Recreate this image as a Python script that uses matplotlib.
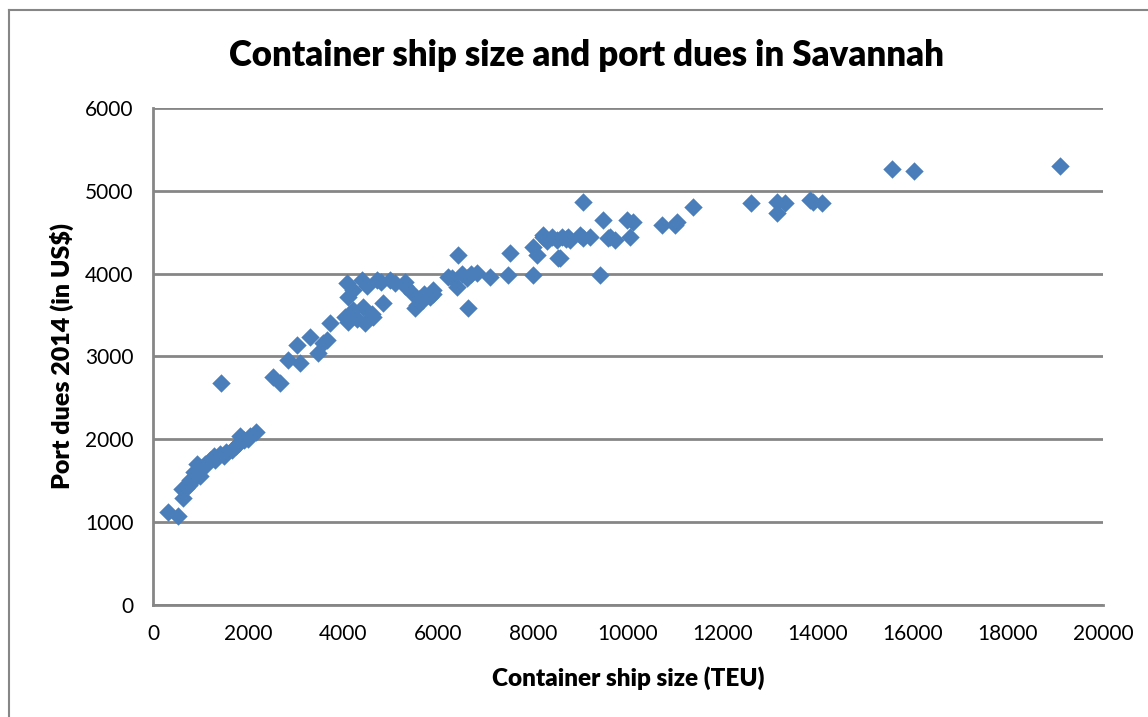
import matplotlib.pyplot as plt
from matplotlib.lines import Line2D

# ship size (TEU) and port dues 2014 (US$)
ship_teu = [316, 526, 630, 695, 779, 863, 926, 989, 1095, 1200, 1284, 1410,
            1537, 1663, 1747, 1832, 1916, 2042, 2168, 1432,
            600, 750, 850, 1000, 1100, 1300, 1500, 1800, 2000,
            2526, 2674, 2842, 3032, 3095, 3305, 3474, 3579, 3726, 3663,
            4042, 4084, 4105, 4210, 4400, 4421, 4463, 4631, 4716, 4842,
            4100, 4300, 4500, 4200, 4600, 4800,
            4989, 5095, 5305, 5453, 5558, 5684, 5895, 5832, 5516,
            5300, 5600, 5700, 5900,
            6421, 6210, 6400, 6632, 6821, 7095, 7516, 7474, 8000, 8000,
            6300, 6500, 6600, 6700,
            8084, 8210, 8526, 8505, 8779, 9053, 9410, 9579, 10042,
            8300, 8400, 8600, 8700,
            9053, 8210, 8568, 8737, 8989, 9200, 9474, 9621, 9726, 9979,
            10105, 10716, 10989, 11031, 11368,
            12589, 13137, 13137, 13305, 13832, 14084, 13895,
            15558, 16021, 19095]
port_dues = [1119, 1070, 1288, 1409, 1506, 1603, 1700, 1555, 1675, 1748, 1796, 1820,
             1845, 1869, 1918, 2039, 1990, 2039, 2087, 2683,
             1400, 1450, 1500, 1650, 1700, 1750, 1800, 1950, 2000,
             2752, 2680, 2958, 3139, 2922, 3236, 3042, 3163, 3405, 3200,
             3478, 3889, 3720, 3562, 3925, 3599, 3405, 3478, 3925, 3647,
             3420, 3450, 3850, 3800, 3520, 3900,
             3925, 3889, 3901, 3768, 3623, 3683, 3804, 3720, 3587,
             3850, 3700, 3750, 3750,
             4228, 3962, 3841, 3587, 4010, 3962, 4252, 3986, 3986, 4325,
             3950, 4000, 3950, 4000,
             4228, 4446, 4192, 4410, 4410, 4434, 3986, 4434, 4446,
             4400, 4450, 4450, 4420,
             4869, 4470, 4192, 4446, 4470, 4446, 4652, 4446, 4410, 4652,
             4627, 4591, 4591, 4627, 4809,
             4857, 4869, 4736, 4857, 4894, 4857, 4869,
             5268, 5244, 5305]

x_ticks = list(range(0, 20001, 2000))
y_ticks = list(range(0, 6001, 1000))

plt.rcParams['font.family'] = ['Lato', 'DejaVu Sans']

fig = plt.figure(figsize=(11.48, 7.17), dpi=100)
ax = fig.add_axes([0.1333, 0.1569, 0.8275, 0.6918])

ax.scatter(ship_teu, port_dues, marker='D', s=88, c='#4a7ebb',
           linewidths=0, zorder=3)

ax.set_xlim(0, 20000)
ax.set_ylim(0, 6000)
ax.set_xticks(x_ticks)
ax.set_yticks(y_ticks)
ax.tick_params(length=0, labelsize=15, pad=14)
ax.grid(axis='y', color='#868686', linewidth=2)
for side in ['top', 'right']:
    ax.spines[side].set_visible(False)
for side in ['left', 'bottom']:
    ax.spines[side].set_color('#868686')
    ax.spines[side].set_linewidth(2)

ax.set_xlabel('Container ship size (TEU)', fontsize=17.5, fontweight='heavy', labelpad=16)
ax.set_ylabel('Port dues 2014 (in US$)', fontsize=18, fontweight='heavy', labelpad=8)
fig.text(0.511, 0.923, 'Container ship size and port dues in Savannah',
         ha='center', va='center', fontsize=25, fontweight='heavy')

# chart area border
fig.add_artist(Line2D([8.5 / 1148, 8.5 / 1148], [0, 1 - 10 / 717],
                      transform=fig.transFigure, color='#868686', linewidth=1.5))
fig.add_artist(Line2D([8.5 / 1148, 1], [1 - 10 / 717, 1 - 10 / 717],
                      transform=fig.transFigure, color='#868686', linewidth=1.5))

fig.savefig('out.png', dpi=100)
